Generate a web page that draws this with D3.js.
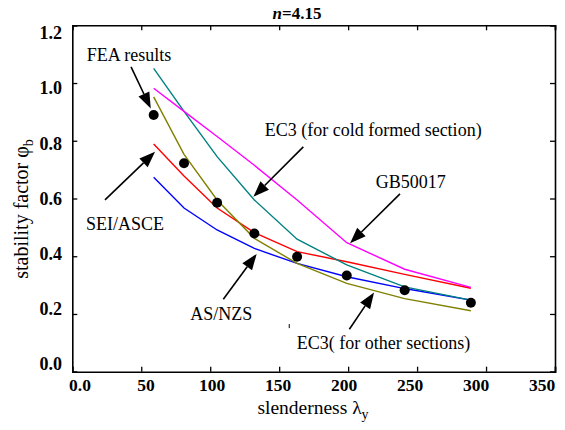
<!DOCTYPE html>
<html>
<head>
<meta charset="utf-8">
<script src="https://cdn.jsdelivr.net/npm/d3@7"></script>
<style>
  body { margin: 0; background: #fff; }
</style>
</head>
<body>
<div id="chart"></div>
<script>
// slenderness values shared by every curve
const slenderness = [59, 81, 105, 132, 163, 199, 241, 289];
const feaResults = [0.889, 0.722, 0.585, 0.479, 0.398, 0.333, 0.282, 0.239];
const asNzs = [0.674, 0.567, 0.491, 0.427, 0.375, 0.329, 0.288, 0.248];
const seiAsce = [0.789, 0.678, 0.567, 0.482, 0.416, 0.381, 0.337, 0.289];
const ec3Other = [0.952, 0.753, 0.595, 0.462, 0.375, 0.306, 0.253, 0.211];
const ec3Cold = [1.051, 0.902, 0.745, 0.595, 0.459, 0.370, 0.294, 0.248];
const gb50017 = [0.982, 0.902, 0.815, 0.715, 0.595, 0.447, 0.355, 0.292];

const xTicks = [0, 50, 100, 150, 200, 250, 300, 350];
const xTickLabels = ['0.0', '50', '100', '150', '200', '250', '300', '350'];
const yTicks = [0, 0.2, 0.4, 0.6, 0.8, 1.0, 1.2];
const yTickLabels = ['0.0', '0.2', '0.4', '0.6', '0.8', '1.0', '1.2'];

// annotation text: [label, x, y] in data units (left edge, middle)
const notes = [
  ['FEA results', 10.5, 1.097],
  ['EC3 (for cold formed section)', 139.5, 0.837],
  ['GB50017', 220, 0.658],
  ['SEI/ASCE', 10, 0.514],
  ['AS/NZS', 85.5, 0.202],
  ['EC3( for other sections)', 162.8, 0.102]
];
// arrows: [x0, y0, x1 (tip), y1 (tip)]
const arrows = [
  [42.6, 1.056, 56.9, 0.912],
  [167.5, 0.779, 131.3, 0.606],
  [237.6, 0.616, 201.4, 0.445],
  [23.7, 0.595, 60.0, 0.762],
  [109.5, 0.251, 133.7, 0.408],
  [200.9, 0.147, 218.8, 0.274]
];

const width = 565;
const height = 430;
const margin = { top: 25.3, right: 10, bottom: 58.3, left: 72.3 };
const serif = '"Liberation Serif"';

const svg = d3.select('#chart')
  .append('svg')
  .attr('width', width)
  .attr('height', height);

const x = d3.scaleLinear()
  .domain([0, 350])
  .range([margin.left, width - margin.right]);
const y = d3.scaleLinear()
  .domain([0, 1.2])
  .range([height - margin.bottom, margin.top]);

// tick labels sit on a slightly tighter spacing than the ticks themselves
const xLab = d3.scaleLinear().domain([0, 350]).range([80, 542]);
const yLab = d3.scaleLinear().domain([0, 1.2]).range([364, 33]);

// ticks on all four sides, pointing inward
const tickLen = 5;
svg.append('g')
  .attr('transform', 'translate(0,' + y(0) + ')')
  .call(d3.axisBottom(x).tickValues(xTicks).tickSize(-tickLen).tickFormat(''));
svg.append('g')
  .attr('transform', 'translate(0,' + y(1.2) + ')')
  .call(d3.axisTop(x).tickValues(xTicks).tickSize(-tickLen).tickFormat(''));
svg.append('g')
  .attr('transform', 'translate(' + x(0) + ',0)')
  .call(d3.axisLeft(y).tickValues(yTicks).tickSize(-tickLen).tickFormat(''));
svg.append('g')
  .attr('transform', 'translate(' + x(350) + ',0)')
  .call(d3.axisRight(y).tickValues(yTicks).tickSize(-tickLen).tickFormat(''));
svg.selectAll('.domain').attr('stroke', '#000').attr('stroke-width', 1.6);
svg.selectAll('.tick line').attr('stroke', '#000').attr('stroke-width', 1.3);

svg.append('g')
  .selectAll('text')
  .data(xTicks)
  .enter()
  .append('text')
  .attr('x', d => xLab(d))
  .attr('y', 391)
  .attr('text-anchor', 'middle')
  .style('font-family', serif)
  .style('font-size', '17.5px')
  .style('font-weight', 'bold')
  .text((d, i) => xTickLabels[i]);

svg.append('g')
  .selectAll('text')
  .data(yTicks)
  .enter()
  .append('text')
  .attr('x', 62)
  .attr('y', d => yLab(d))
  .attr('dy', '0.35em')
  .attr('text-anchor', 'end')
  .style('font-family', serif)
  .style('font-size', '18px')
  .style('font-weight', 'bold')
  .text((d, i) => yTickLabels[i]);

// title
const title = svg.append('text')
  .attr('x', 297)
  .attr('y', 19)
  .attr('text-anchor', 'middle')
  .style('font-family', serif)
  .style('font-size', '17px')
  .style('font-weight', 'bold');
title.append('tspan').style('font-style', 'italic').text('n');
title.append('tspan').text('=4.15');

// axis titles
const xTitle = svg.append('text')
  .attr('x', 313)
  .attr('y', 414)
  .attr('text-anchor', 'middle')
  .style('font-family', serif)
  .style('font-size', '19.5px');
xTitle.append('tspan').text('slenderness \u03bb');
xTitle.append('tspan').attr('dy', 5).style('font-size', '14px').text('y');

const yTitle = svg.append('text')
  .attr('transform', 'translate(28,209) rotate(-90)')
  .attr('text-anchor', 'middle')
  .style('font-family', serif)
  .style('font-size', '20px');
yTitle.append('tspan').text('stability factor \u03c6');
yTitle.append('tspan').attr('dy', 5).style('font-size', '14px').text('b');

// curves
const line = d3.line()
  .x((d, i) => x(slenderness[i]))
  .y(d => y(d));

const curves = [
  [asNzs, '#0000ff'],
  [seiAsce, '#ff0000'],
  [ec3Other, '#808000'],
  [ec3Cold, '#008080'],
  [gb50017, '#ff00ff']
];
svg.append('g')
  .selectAll('path')
  .data(curves)
  .enter()
  .append('path')
  .attr('d', d => line(d[0]))
  .attr('fill', 'none')
  .attr('stroke', d => d[1])
  .attr('stroke-width', 1.4);

svg.append('g')
  .selectAll('circle')
  .data(feaResults)
  .enter()
  .append('circle')
  .attr('cx', (d, i) => x(slenderness[i]))
  .attr('cy', d => y(d))
  .attr('r', 5)
  .attr('fill', '#000');

// annotations
svg.append('g')
  .selectAll('text')
  .data(notes)
  .enter()
  .append('text')
  .attr('x', d => x(d[1]))
  .attr('y', d => y(d[2]))
  .attr('dy', '0.35em')
  .style('font-family', serif)
  .style('font-size', '18px')
  .text(d => d[0]);

const headLen = 16;
const headHalf = 6;
const arrowG = svg.append('g');
arrows.forEach(a => {
  const x0 = x(a[0]), y0 = y(a[1]), x1 = x(a[2]), y1 = y(a[3]);
  const ang = Math.atan2(y1 - y0, x1 - x0);
  const bx = x1 - headLen * Math.cos(ang);
  const by = y1 - headLen * Math.sin(ang);
  arrowG.append('line')
    .attr('x1', x0).attr('y1', y0)
    .attr('x2', bx).attr('y2', by)
    .attr('stroke', '#000')
    .attr('stroke-width', 1.6);
  const px = -Math.sin(ang) * headHalf;
  const py = Math.cos(ang) * headHalf;
  arrowG.append('path')
    .attr('d', 'M' + x1 + ',' + y1 + 'L' + (bx + px) + ',' + (by + py) + 'L' + (bx - px) + ',' + (by - py) + 'Z')
    .attr('fill', '#000');
});

// small stray mark left in the original plot
svg.append('line')
  .attr('x1', x(157.3)).attr('y1', y(0.151))
  .attr('x2', x(157.3)).attr('y2', y(0.165))
  .attr('stroke', '#000')
  .attr('stroke-width', 1);
</script>
</body>
</html>
